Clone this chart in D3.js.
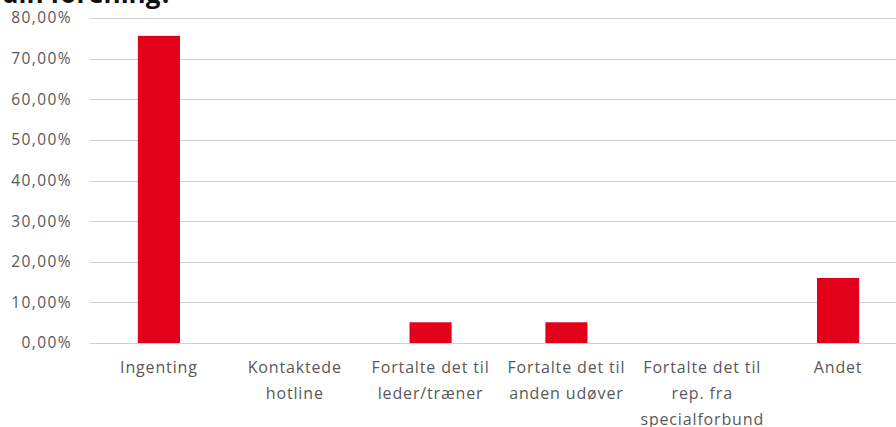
<!DOCTYPE html>
<html>
<head>
<meta charset="utf-8">
<script src="https://cdn.jsdelivr.net/npm/d3@7"></script>
<style>
	body { margin: 0; background: #fff; }
	svg { display: block; }
	text { font-family: "Open Sans", sans-serif; }
</style>
</head>
<body>
<div id="chart"></div>
<script>
// chart data
let categories = [
	['Ingenting'],
	['Kontaktede', 'hotline'],
	['Fortalte det til', 'leder/træner'],
	['Fortalte det til', 'anden udøver'],
	['Fortalte det til', 'rep. fra', 'specialforbund'],
	['Andet']
]
let values = [75.6, 0, 5.1, 5.1, 0, 16.0]
let yTicks = [0, 10, 20, 30, 40, 50, 60, 70, 80]
let title = 'din forening?'

let width = 896, height = 427
let margin = {top: 18, right: -10, bottom: 84, left: 91}

let svg = d3.select('#chart')
	.append('svg')
	.attr('width', width)
	.attr('height', height)

// title, cut off by the top edge like in the original
svg.append('text')
	.attr('x', 2)
	.attr('y', 3)
	.attr('font-size', 26)
	.attr('font-weight', 700)
	.attr('fill', '#111')
	.text(title)

let x = d3.scaleBand()
	.domain(d3.range(categories.length))
	.range([margin.left, width - margin.right])
	.paddingInner(0.69)
	.paddingOuter(0.345)

let y = d3.scaleLinear()
	.domain([0, 80])
	.range([height - margin.bottom, margin.top])

// grid lines
svg.append('g')
	.selectAll('line')
	.data(yTicks)
	.enter()
	.append('line')
	.attr('x1', margin.left - 1)
	.attr('x2', width)
	.attr('y1', function(d){ return Math.round(y(d)) + 0.5 })
	.attr('y2', function(d){ return Math.round(y(d)) + 0.5 })
	.attr('stroke', '#d0d0d0')
	.attr('stroke-width', 1.2)

// y labels
svg.append('g')
	.selectAll('text')
	.data(yTicks)
	.enter()
	.append('text')
	.attr('x', 72)
	.attr('y', function(d){ return y(d) })
	.attr('dy', '0.35em')
	.attr('text-anchor', 'end')
	.attr('font-size', 15.5)
	.attr('letter-spacing', 1.4)
	.attr('fill', '#595959')
	.text(function(d){ return d3.format('.2f')(d).replace('.', ',') + '%' })

// bars
svg.append('g')
	.selectAll('rect')
	.data(values)
	.enter()
	.append('rect')
	.attr('x', function(d, i){ return x(i) })
	.attr('width', x.bandwidth())
	.attr('y', function(d){ return y(d) })
	.attr('height', function(d){ return y(0) - y(d) })
	.attr('fill', '#e2001a')

// category labels
let labels = svg.append('g')
	.selectAll('text')
	.data(categories)
	.enter()
	.append('text')
	.attr('x', function(d, i){ return x(i) + x.bandwidth() / 2 })
	.attr('y', 373)
	.attr('text-anchor', 'middle')
	.attr('font-size', 16)
	.attr('letter-spacing', 0.85)
	.attr('fill', '#595959')

labels.selectAll('tspan')
	.data(function(d){ return d })
	.enter()
	.append('tspan')
	.attr('x', function(){ return d3.select(this.parentNode).attr('x') })
	.attr('dy', function(d, i){ return i == 0 ? 0 : 26 })
	.text(function(d){ return d })
</script>
</body>
</html>
